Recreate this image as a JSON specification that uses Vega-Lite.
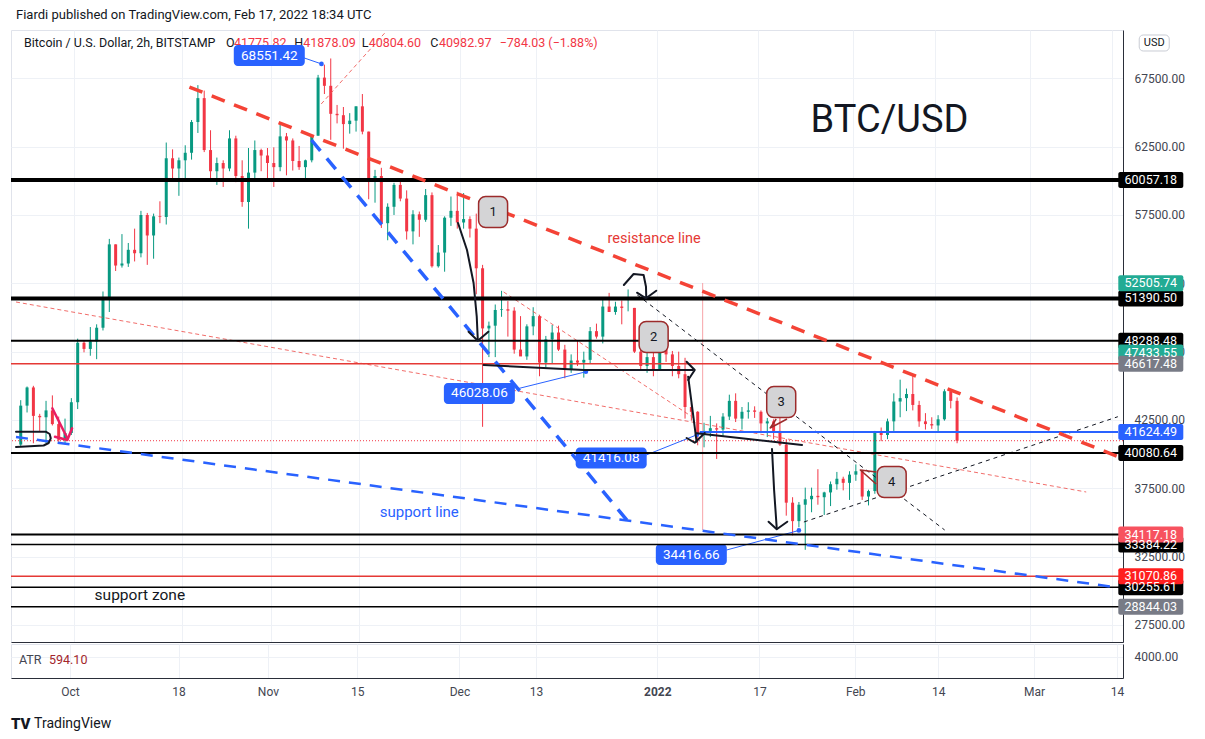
{
  "$schema": "https://vega.github.io/schema/vega-lite/v6.json",
  "background": "white",
  "padding": {"left": 8, "top": 8, "right": 5, "bottom": 5},
  "spacing": 0,
  "resolve": {"scale": {"x": "independent", "y": "independent"}, "axis": {"x": "independent", "y": "independent"}},
  "datasets": {
    "candles": [
      {"t":"2021-09-22","open":40700,"high":43950,"low":40600,"close":43550},
      {"t":"2021-09-23","open":43550,"high":44950,"low":43050,"close":44880},
      {"t":"2021-09-24","open":44880,"high":45000,"low":40800,"close":42800},
      {"t":"2021-09-25","open":42800,"high":42950,"low":41700,"close":42700},
      {"t":"2021-09-26","open":42700,"high":43900,"low":40800,"close":43200},
      {"t":"2021-09-27","open":43200,"high":44300,"low":42100,"close":42200},
      {"t":"2021-09-28","open":42200,"high":42750,"low":40900,"close":41050},
      {"t":"2021-09-29","open":41050,"high":42600,"low":40800,"close":41550},
      {"t":"2021-09-30","open":41550,"high":44100,"low":41400,"close":43800},
      {"t":"2021-10-01","open":43800,"high":48450,"low":43300,"close":48150},
      {"t":"2021-10-02","open":48150,"high":48350,"low":47450,"close":47700},
      {"t":"2021-10-03","open":47700,"high":49300,"low":47200,"close":48250},
      {"t":"2021-10-04","open":48250,"high":49500,"low":46950,"close":49250},
      {"t":"2021-10-05","open":49250,"high":51900,"low":49050,"close":51500},
      {"t":"2021-10-06","open":51500,"high":55750,"low":50400,"close":55350},
      {"t":"2021-10-07","open":55350,"high":55350,"low":53400,"close":53800},
      {"t":"2021-10-08","open":53800,"high":56100,"low":53650,"close":53950},
      {"t":"2021-10-09","open":53950,"high":55450,"low":53700,"close":54950},
      {"t":"2021-10-10","open":54950,"high":56500,"low":54100,"close":54700},
      {"t":"2021-10-11","open":54700,"high":57800,"low":54400,"close":57500},
      {"t":"2021-10-12","open":57500,"high":57650,"low":53850,"close":56000},
      {"t":"2021-10-13","open":56000,"high":57600,"low":54300,"close":57400},
      {"t":"2021-10-14","open":57400,"high":58500,"low":56900,"close":57350},
      {"t":"2021-10-15","open":57350,"high":62800,"low":56800,"close":61650},
      {"t":"2021-10-16","open":61650,"high":62300,"low":60200,"close":60900},
      {"t":"2021-10-17","open":60900,"high":61700,"low":58900,"close":61500},
      {"t":"2021-10-18","open":61500,"high":62600,"low":60100,"close":62050},
      {"t":"2021-10-19","open":62050,"high":64450,"low":61550,"close":64300},
      {"t":"2021-10-20","open":64300,"high":67000,"low":63500,"close":66050},
      {"t":"2021-10-21","open":66050,"high":66600,"low":62100,"close":62250},
      {"t":"2021-10-22","open":62250,"high":63700,"low":60000,"close":60700},
      {"t":"2021-10-23","open":60700,"high":61700,"low":59700,"close":61300},
      {"t":"2021-10-24","open":61300,"high":61500,"low":59550,"close":60900},
      {"t":"2021-10-25","open":60900,"high":63700,"low":60700,"close":63100},
      {"t":"2021-10-26","open":63100,"high":63300,"low":59900,"close":60350},
      {"t":"2021-10-27","open":60350,"high":61500,"low":58100,"close":58450},
      {"t":"2021-10-28","open":58450,"high":62400,"low":56500,"close":60600},
      {"t":"2021-10-29","open":60600,"high":62950,"low":60200,"close":62250},
      {"t":"2021-10-30","open":62250,"high":62350,"low":60700,"close":61850},
      {"t":"2021-10-31","open":61850,"high":62400,"low":59950,"close":61300},
      {"t":"2021-11-01","open":61300,"high":62450,"low":59550,"close":61000},
      {"t":"2021-11-02","open":61000,"high":64300,"low":60700,"close":63250},
      {"t":"2021-11-03","open":63250,"high":63500,"low":60400,"close":62950},
      {"t":"2021-11-04","open":62950,"high":63100,"low":60750,"close":61450},
      {"t":"2021-11-05","open":61450,"high":62550,"low":60800,"close":61000},
      {"t":"2021-11-06","open":61000,"high":61550,"low":60100,"close":61500},
      {"t":"2021-11-07","open":61500,"high":63300,"low":61350,"close":63300},
      {"t":"2021-11-08","open":63300,"high":67750,"low":63300,"close":67550},
      {"t":"2021-11-09","open":67550,"high":68500,"low":66350,"close":66950},
      {"t":"2021-11-10","open":66950,"high":68950,"low":63000,"close":64900},
      {"t":"2021-11-11","open":64900,"high":65550,"low":64200,"close":64800},
      {"t":"2021-11-12","open":64800,"high":65400,"low":62350,"close":64150},
      {"t":"2021-11-13","open":64150,"high":64950,"low":63450,"close":64400},
      {"t":"2021-11-14","open":64400,"high":65450,"low":63600,"close":65450},
      {"t":"2021-11-15","open":65450,"high":66350,"low":63400,"close":63600},
      {"t":"2021-11-16","open":63600,"high":63600,"low":58650,"close":60100},
      {"t":"2021-11-17","open":60100,"high":60800,"low":58400,"close":60350},
      {"t":"2021-11-18","open":60350,"high":60950,"low":56550,"close":56900},
      {"t":"2021-11-19","open":56900,"high":58350,"low":55650,"close":58100},
      {"t":"2021-11-20","open":58100,"high":59850,"low":57500,"close":59700},
      {"t":"2021-11-21","open":59700,"high":60050,"low":58500,"close":58700},
      {"t":"2021-11-22","open":58700,"high":59300,"low":55700,"close":56300},
      {"t":"2021-11-23","open":56300,"high":57850,"low":55350,"close":57550},
      {"t":"2021-11-24","open":57550,"high":57750,"low":55900,"close":57150},
      {"t":"2021-11-25","open":57150,"high":59400,"low":57000,"close":58950},
      {"t":"2021-11-26","open":58950,"high":59150,"low":53650,"close":53750},
      {"t":"2021-11-27","open":53750,"high":55300,"low":53650,"close":54750},
      {"t":"2021-11-28","open":54750,"high":57400,"low":53350,"close":57300},
      {"t":"2021-11-29","open":57300,"high":58850,"low":56700,"close":57800},
      {"t":"2021-11-30","open":57800,"high":59200,"low":56500,"close":56950},
      {"t":"2021-12-01","open":56950,"high":59100,"low":56500,"close":57200},
      {"t":"2021-12-02","open":57200,"high":57400,"low":55850,"close":56500},
      {"t":"2021-12-03","open":56500,"high":57600,"low":51700,"close":53600},
      {"t":"2021-12-04","open":53600,"high":53850,"low":42000,"close":49200},
      {"t":"2021-12-05","open":49200,"high":49700,"low":47100,"close":49400},
      {"t":"2021-12-06","open":49400,"high":50950,"low":47100,"close":50550},
      {"t":"2021-12-07","open":50550,"high":51950,"low":50050,"close":50600},
      {"t":"2021-12-08","open":50600,"high":51200,"low":48600,"close":50500},
      {"t":"2021-12-09","open":50500,"high":50750,"low":47350,"close":47650},
      {"t":"2021-12-10","open":47650,"high":50100,"low":47300,"close":47150},
      {"t":"2021-12-11","open":47150,"high":49500,"low":46900,"close":49350},
      {"t":"2021-12-12","open":49350,"high":50750,"low":48700,"close":50100},
      {"t":"2021-12-13","open":50100,"high":50200,"low":45700,"close":46700},
      {"t":"2021-12-14","open":46700,"high":48650,"low":46350,"close":48400},
      {"t":"2021-12-15","open":48400,"high":49450,"low":46600,"close":48900},
      {"t":"2021-12-16","open":48900,"high":49400,"low":47550,"close":47650},
      {"t":"2021-12-17","open":47650,"high":48000,"low":45550,"close":46200},
      {"t":"2021-12-18","open":46200,"high":47300,"low":45950,"close":46850},
      {"t":"2021-12-19","open":46850,"high":48300,"low":46450,"close":46700},
      {"t":"2021-12-20","open":46700,"high":47500,"low":45600,"close":46900},
      {"t":"2021-12-21","open":46900,"high":49300,"low":46650,"close":49000},
      {"t":"2021-12-22","open":49000,"high":49550,"low":48450,"close":48600},
      {"t":"2021-12-23","open":48600,"high":51350,"low":48100,"close":50800},
      {"t":"2021-12-24","open":50800,"high":51800,"low":50450,"close":50400},
      {"t":"2021-12-25","open":50400,"high":51150,"low":50200,"close":50800},
      {"t":"2021-12-26","open":50800,"high":51250,"low":49500,"close":50700},
      {"t":"2021-12-27","open":50700,"high":52050,"low":50450,"close":50700},
      {"t":"2021-12-28","open":50700,"high":50700,"low":47400,"close":47500},
      {"t":"2021-12-29","open":47500,"high":48100,"low":46150,"close":46450},
      {"t":"2021-12-30","open":46450,"high":47900,"low":45950,"close":47100},
      {"t":"2021-12-31","open":47100,"high":48500,"low":45700,"close":46200},
      {"t":"2022-01-01","open":46200,"high":47900,"low":46200,"close":47700},
      {"t":"2022-01-02","open":47700,"high":47950,"low":46750,"close":47300},
      {"t":"2022-01-03","open":47300,"high":47550,"low":45700,"close":46450},
      {"t":"2022-01-04","open":46450,"high":47500,"low":45550,"close":45850},
      {"t":"2022-01-05","open":45850,"high":47050,"low":42600,"close":43450},
      {"t":"2022-01-06","open":43450,"high":43750,"low":42450,"close":43100},
      {"t":"2022-01-07","open":43100,"high":43150,"low":40650,"close":41550},
      {"t":"2022-01-08","open":41550,"high":42300,"low":40500,"close":41700},
      {"t":"2022-01-09","open":41700,"high":42800,"low":41250,"close":41900},
      {"t":"2022-01-10","open":41900,"high":42250,"low":39650,"close":41800},
      {"t":"2022-01-11","open":41800,"high":43000,"low":41300,"close":42750},
      {"t":"2022-01-12","open":42750,"high":44350,"low":42500,"close":43900},
      {"t":"2022-01-13","open":43900,"high":44450,"low":42350,"close":42600},
      {"t":"2022-01-14","open":42600,"high":43450,"low":41800,"close":43100},
      {"t":"2022-01-15","open":43100,"high":43800,"low":42600,"close":43200},
      {"t":"2022-01-16","open":43200,"high":43500,"low":42650,"close":43100},
      {"t":"2022-01-17","open":43100,"high":43200,"low":41550,"close":42250},
      {"t":"2022-01-18","open":42250,"high":42650,"low":41250,"close":42400},
      {"t":"2022-01-19","open":42400,"high":42550,"low":41100,"close":41700},
      {"t":"2022-01-20","open":41700,"high":43500,"low":40600,"close":40700},
      {"t":"2022-01-21","open":40700,"high":41100,"low":35500,"close":36450},
      {"t":"2022-01-22","open":36450,"high":36850,"low":34050,"close":35100},
      {"t":"2022-01-23","open":35100,"high":36500,"low":34650,"close":36300},
      {"t":"2022-01-24","open":36300,"high":37550,"low":33000,"close":36700},
      {"t":"2022-01-25","open":36700,"high":37550,"low":35750,"close":36950},
      {"t":"2022-01-26","open":36950,"high":38900,"low":36300,"close":36850},
      {"t":"2022-01-27","open":36850,"high":37250,"low":35550,"close":37200},
      {"t":"2022-01-28","open":37200,"high":38000,"low":36200,"close":37800},
      {"t":"2022-01-29","open":37800,"high":38700,"low":37400,"close":38200},
      {"t":"2022-01-30","open":38200,"high":38350,"low":37350,"close":37900},
      {"t":"2022-01-31","open":37900,"high":38750,"low":36650,"close":38500},
      {"t":"2022-02-01","open":38500,"high":39250,"low":38050,"close":38750},
      {"t":"2022-02-02","open":38750,"high":38850,"low":36650,"close":36900},
      {"t":"2022-02-03","open":36900,"high":37400,"low":36250,"close":37300},
      {"t":"2022-02-04","open":37300,"high":41700,"low":37100,"close":41550},
      {"t":"2022-02-05","open":41550,"high":41950,"low":40950,"close":41400},
      {"t":"2022-02-06","open":41400,"high":42600,"low":41100,"close":42400},
      {"t":"2022-02-07","open":42400,"high":44450,"low":41700,"close":43850},
      {"t":"2022-02-08","open":43850,"high":45450,"low":42700,"close":44100},
      {"t":"2022-02-09","open":44100,"high":44800,"low":43150,"close":44400},
      {"t":"2022-02-10","open":44400,"high":45800,"low":43200,"close":43600},
      {"t":"2022-02-11","open":43600,"high":43900,"low":42000,"close":42400},
      {"t":"2022-02-12","open":42400,"high":43000,"low":41800,"close":42200},
      {"t":"2022-02-13","open":42200,"high":42700,"low":41850,"close":42100},
      {"t":"2022-02-14","open":42100,"high":42850,"low":41600,"close":42550},
      {"t":"2022-02-15","open":42550,"high":44750,"low":42450,"close":44600},
      {"t":"2022-02-16","open":44600,"high":44600,"low":43350,"close":43900},
      {"t":"2022-02-17","open":43900,"high":44150,"low":40800,"close":40983}
    ],
    "levels": [
      {"p":60057.18,"k":"major"},
      {"p":51390.5,"k":"major"},
      {"p":48288.48,"k":"minor"},
      {"p":40080.64,"k":"minor"},
      {"p":34117.18,"k":"minor"},
      {"p":33384.22,"k":"fine"},
      {"p":30255.61,"k":"fine"},
      {"p":28844.03,"k":"fine"},
      {"p":46617.48,"k":"red"},
      {"p":31070.86,"k":"red"},
      {"p":40982.97,"k":"last"}
    ],
    "paths": [
      {"g":"r1","s":"resistance","i":0,"t":"2021-10-19T04:00:00Z","p":66863},
      {"g":"r1","s":"resistance","i":1,"t":"2022-03-14T22:00:00Z","p":39821},
      {"g":"c1","s":"channel","i":0,"t":"2021-11-07T11:00:00Z","p":62986},
      {"g":"c1","s":"channel","i":1,"t":"2021-12-28T05:00:00Z","p":34670},
      {"g":"s1","s":"support","i":0,"t":"2021-09-21T18:11:00Z","p":41255},
      {"g":"s1","s":"support","i":1,"t":"2022-03-14T22:00:00Z","p":30243},
      {"g":"t1","s":"redthin","i":0,"t":"2021-09-21T18:11:00Z","p":51133},
      {"g":"t1","s":"redthin","i":1,"t":"2022-03-09T22:00:00Z","p":37231},
      {"g":"t2","s":"redthin","i":0,"t":"2021-11-09T00:00:00Z","p":65620},
      {"g":"t2","s":"redthin","i":1,"t":"2021-11-19T05:00:00Z","p":70900},
      {"g":"t3","s":"redthin","i":0,"t":"2021-12-07T20:00:00Z","p":51864},
      {"g":"t3","s":"redthin","i":1,"t":"2022-01-07T09:00:00Z","p":42499},
      {"g":"k1","s":"blackthin","i":0,"t":"2021-12-28T23:00:00Z","p":51645},
      {"g":"k1","s":"blackthin","i":1,"t":"2022-02-15T13:00:00Z","p":34451},
      {"g":"k2","s":"blackthin","i":0,"t":"2022-01-24T07:00:00Z","p":35036},
      {"g":"k2","s":"blackthin","i":1,"t":"2022-03-14T22:00:00Z","p":42740},
      {"g":"a1","s":"pen","i":0,"t":"2021-11-30T15:00:00Z","p":56913},
      {"g":"a1","s":"pen","i":1,"t":"2021-12-02T01:00:00Z","p":54937},
      {"g":"a1","s":"pen","i":2,"t":"2021-12-03T02:00:00Z","p":52523},
      {"g":"a1","s":"pen","i":3,"t":"2021-12-03T14:00:00Z","p":50057},
      {"g":"a1","s":"pen","i":4,"t":"2021-12-03T18:00:00Z","p":48352},
      {"g":"a1h","s":"pen","i":0,"t":"2021-12-02T07:00:00Z","p":48960},
      {"g":"a1h","s":"pen","i":1,"t":"2021-12-03T18:00:00Z","p":48301},
      {"g":"a1h","s":"pen","i":2,"t":"2021-12-05T10:00:00Z","p":48960},
      {"g":"b1","s":"pen","i":0,"t":"2021-12-04T16:00:00Z","p":46523},
      {"g":"b1","s":"pen","i":1,"t":"2021-12-20T12:00:00Z","p":46157},
      {"g":"b1","s":"pen","i":2,"t":"2022-01-06T18:00:00Z","p":46157},
      {"g":"b1h","s":"pen","i":0,"t":"2022-01-05T18:00:00Z","p":46765},
      {"g":"b1h","s":"pen","i":1,"t":"2022-01-07T01:00:00Z","p":46157},
      {"g":"b1h","s":"pen","i":2,"t":"2022-01-06T00:00:00Z","p":45426},
      {"g":"c1v","s":"pen","i":0,"t":"2022-01-06T00:00:00Z","p":45667},
      {"g":"c1v","s":"pen","i":1,"t":"2022-01-07T08:00:00Z","p":40911},
      {"g":"c1h","s":"pen","i":0,"t":"2022-01-05T18:00:00Z","p":41182},
      {"g":"c1h","s":"pen","i":1,"t":"2022-01-07T01:00:00Z","p":40838},
      {"g":"c1h","s":"pen","i":2,"t":"2022-01-08T15:00:00Z","p":41548},
      {"g":"d1","s":"pen","i":0,"t":"2022-01-07T08:00:00Z","p":41526},
      {"g":"d1","s":"pen","i":1,"t":"2022-01-24T00:00:00Z","p":40670},
      {"g":"e1","s":"pen","i":0,"t":"2022-01-19T06:00:00Z","p":40377},
      {"g":"e1","s":"pen","i":1,"t":"2022-01-19T14:00:00Z","p":37378},
      {"g":"e1","s":"pen","i":2,"t":"2022-01-20T00:00:00Z","p":34575},
      {"g":"e1h","s":"pen","i":0,"t":"2022-01-18T17:00:00Z","p":35058},
      {"g":"e1h","s":"pen","i":1,"t":"2022-01-20T00:00:00Z","p":34502},
      {"g":"e1h","s":"pen","i":2,"t":"2022-01-21T16:00:00Z","p":35058},
      {"g":"f1","s":"pen","i":0,"t":"2021-12-26T20:00:00Z","p":52377},
      {"g":"f1","s":"pen","i":1,"t":"2021-12-28T09:00:00Z","p":53181},
      {"g":"f1","s":"pen","i":2,"t":"2021-12-29T23:00:00Z","p":53108},
      {"g":"f1","s":"pen","i":3,"t":"2021-12-30T08:00:00Z","p":52252},
      {"g":"f1","s":"pen","i":4,"t":"2021-12-30T09:00:00Z","p":51521},
      {"g":"f1h","s":"pen","i":0,"t":"2021-12-28T22:00:00Z","p":51813},
      {"g":"f1h","s":"pen","i":1,"t":"2021-12-30T08:00:00Z","p":51403},
      {"g":"f1h","s":"pen","i":2,"t":"2021-12-31T23:00:00Z","p":51960},
      {"g":"h1","s":"pen","i":0,"t":"2021-09-21T18:11:00Z","p":41643},
      {"g":"h1","s":"pen","i":1,"t":"2021-09-26T11:00:00Z","p":41643},
      {"g":"h1","s":"pen","i":2,"t":"2021-09-27T02:00:00Z","p":41475},
      {"g":"h1","s":"pen","i":3,"t":"2021-09-27T06:00:00Z","p":41160},
      {"g":"h1","s":"pen","i":4,"t":"2021-09-26T22:00:00Z","p":40816},
      {"g":"h1","s":"pen","i":5,"t":"2021-09-26T03:00:00Z","p":40633},
      {"g":"h1","s":"pen","i":6,"t":"2021-09-21T18:11:00Z","p":40524},
      {"g":"p1","s":"pink","i":0,"t":"2021-09-27T12:00:00Z","p":43355},
      {"g":"p1","s":"pink","i":1,"t":"2021-09-29T21:00:00Z","p":41160},
      {"g":"p1h","s":"pink","i":0,"t":"2021-09-27T22:00:00Z","p":41277},
      {"g":"p1h","s":"pink","i":1,"t":"2021-09-29T21:00:00Z","p":41036},
      {"g":"p1h","s":"pink","i":2,"t":"2021-09-30T15:00:00Z","p":41892},
      {"g":"l1","s":"callout","i":0,"t":"2021-11-05T21:00:00Z","p":69058},
      {"g":"l1","s":"callout","i":1,"t":"2021-11-09T01:00:00Z","p":68551},
      {"g":"l2","s":"callout","i":0,"t":"2021-12-09T21:00:00Z","p":44767},
      {"g":"l2","s":"callout","i":1,"t":"2021-12-20T20:00:00Z","p":46028},
      {"g":"l3","s":"callout","i":0,"t":"2021-12-30T09:00:00Z","p":39938},
      {"g":"l3","s":"callout","i":1,"t":"2022-01-07T09:00:00Z","p":41416},
      {"g":"l4","s":"callout","i":0,"t":"2022-01-12T02:00:00Z","p":32988},
      {"g":"l4","s":"callout","i":1,"t":"2022-01-23T12:00:00Z","p":34417},
      {"g":"v1","s":"range","i":0,"t":"2022-01-08T07:00:00Z","p":52523},
      {"g":"v1","s":"range","i":1,"t":"2022-01-08T07:00:00Z","p":34451},
      {"g":"n3","s":"tail","i":0,"t":"2022-01-19T22:00:00Z","p":42572},
      {"g":"n3","s":"tail","i":1,"t":"2022-01-18T23:00:00Z","p":41914},
      {"g":"n3","s":"tail","i":2,"t":"2022-01-21T15:00:00Z","p":42572},
      {"g":"n4","s":"tail","i":0,"t":"2022-02-04T17:00:00Z","p":38695},
      {"g":"n4","s":"tail","i":1,"t":"2022-02-02T05:00:00Z","p":38841},
      {"g":"n4","s":"tail","i":2,"t":"2022-02-04T17:00:00Z","p":37817}
    ],
    "callouts": [
      {"v":"68551.42","t":"2021-10-31T19:00:00Z","p":69168,"tp":"2021-11-09T01:00:00Z","pp":68551.42},
      {"v":"46028.06","t":"2021-12-04T00:00:00Z","p":44438,"tp":"2021-12-20T20:00:00Z","pp":46028.06},
      {"v":"41416.08","t":"2021-12-24T20:00:00Z","p":39719,"tp":"2022-01-07T09:00:00Z","pp":41416.08},
      {"v":"34416.66","t":"2022-01-06T12:00:00Z","p":32658,"tp":"2022-01-23T12:00:00Z","pp":34416.66}
    ],
    "badges": [
      {"n":"1","t":"2021-12-06T04:00:00Z","p":57718},
      {"n":"2","t":"2021-12-31T13:00:00Z","p":48572},
      {"n":"3","t":"2022-01-20T17:00:00Z","p":43816},
      {"n":"4","t":"2022-02-07T04:00:00Z","p":37963}
    ],
    "tags": [
      {"p":60057.18,"kind":"level"},
      {"p":51390.5,"kind":"level"},
      {"p":48288.48,"kind":"level"},
      {"p":40080.64,"kind":"level"},
      {"p":33384.22,"kind":"level"},
      {"p":30255.61,"kind":"level"},
      {"p":52505.74,"kind":"range"},
      {"p":47433.55,"kind":"range"},
      {"p":46617.48,"kind":"muted"},
      {"p":28844.03,"kind":"muted"},
      {"p":41624.49,"kind":"line"},
      {"p":34117.18,"kind":"loss"},
      {"p":31070.86,"kind":"alert"}
    ],
    "header": [
      {"text":"Bitcoin / U.S. Dollar, 2h, BITSTAMP","k":"name","t":"2021-09-23T00:15:00Z"},
      {"text":"O","k":"name","t":"2021-10-24T23:00:00Z"},
      {"text":"41775.82","k":"value","t":"2021-10-26T05:00:00Z"},
      {"text":"H","k":"name","t":"2021-11-04T18:00:00Z"},
      {"text":"41878.09","k":"value","t":"2021-11-06T04:00:00Z"},
      {"text":"L","k":"name","t":"2021-11-15T10:00:00Z"},
      {"text":"40804.60","k":"value","t":"2021-11-16T12:00:00Z"},
      {"text":"C","k":"name","t":"2021-11-26T06:00:00Z"},
      {"text":"40982.97","k":"value","t":"2021-11-27T15:00:00Z"},
      {"text":"−784.03 (−1.88%)","k":"value","t":"2021-12-07T05:00:00Z"}
    ]
  },
  "vconcat": [
    {
      "width": 1112,
      "height": 612,
      "layer": [
        {
          "data": {"name": "candles"},
          "mark": {"type": "rule", "strokeWidth": 1, "xOffset": 3.2},
          "encoding": {
            "x": {
              "field": "t", "type": "temporal", "title": null,
              "scale": {"type": "utc", "domain": [
                {"year": 2021, "month": 9, "date": 21, "hours": 18, "minutes": 11, "utc": true},
                {"year": 2022, "month": 3, "date": 14, "hours": 22, "minutes": 34, "utc": true}
              ]},
              "axis": {
                "values": [
                  {"year": 2021, "month": 10, "date": 1, "utc": true},
                  {"year": 2021, "month": 10, "date": 18, "utc": true},
                  {"year": 2021, "month": 11, "date": 1, "utc": true},
                  {"year": 2021, "month": 11, "date": 15, "utc": true},
                  {"year": 2021, "month": 12, "date": 1, "utc": true},
                  {"year": 2021, "month": 12, "date": 13, "utc": true},
                  {"year": 2022, "month": 1, "date": 1, "utc": true},
                  {"year": 2022, "month": 1, "date": 17, "utc": true},
                  {"year": 2022, "month": 2, "date": 1, "utc": true},
                  {"year": 2022, "month": 2, "date": 14, "utc": true},
                  {"year": 2022, "month": 3, "date": 1, "utc": true},
                  {"year": 2022, "month": 3, "date": 14, "utc": true}
                ],
                "labels": false, "ticks": false, "grid": true, "gridColor": "#eef1f6",
                "domain": true, "domainColor": "#2a2e39"
              }
            },
            "y": {
              "field": "low", "type": "quantitative", "title": null,
              "scale": {"domain": [26256, 71034], "zero": false, "nice": false},
              "axis": {
                "orient": "right",
                "values": [27500, 30000, 32500, 35000, 37500, 40000, 42500, 45000, 47500, 50000, 52500, 55000, 57500, 60000, 62500, 65000, 67500, 70000],
                "format": ".2f", "ticks": false, "tickSize": 0, "labelPadding": 11,
                "labelOverlap": false,
                "grid": true, "gridColor": "#eef1f6", "domain": true, "domainColor": "#2a2e39",
                "labelColor": "#434651", "labelFontSize": 12
              }
            },
            "y2": {"field": "high"},
            "color": {"condition": {"test": "datum.close >= datum.open", "value": "#089981"}, "value": "#f23645"}
          }
        },
        {
          "data": {"name": "candles"},
          "mark": {"type": "bar", "width": 3, "xOffset": 3.2},
          "encoding": {
            "x": {"field": "t", "type": "temporal", "title": null},
            "y": {"field": "open", "type": "quantitative", "title": null},
            "y2": {"field": "close"},
            "color": {"condition": {"test": "datum.close >= datum.open", "value": "#089981"}, "value": "#f23645"}
          }
        },
        {
          "data": {"name": "levels"},
          "transform": [{"filter": "datum.k == 'last'"}],
          "mark": {"type": "rule", "color": "#f23645", "strokeWidth": 1, "strokeDash": [1, 2]},
          "encoding": {"y": {"field": "p", "type": "quantitative", "title": null}}
        },
        {
          "data": {"name": "paths"},
          "transform": [{"filter": "datum.s == 'range'"}],
          "mark": {"type": "line", "color": "#f7a3a8", "strokeWidth": 1},
          "encoding": {
            "x": {"field": "t", "type": "temporal", "title": null},
            "y": {"field": "p", "type": "quantitative", "title": null},
            "detail": {"field": "g"}, "order": {"field": "i"}
          }
        },
        {
          "data": {"name": "paths"},
          "transform": [{"filter": "datum.s == 'redthin'"}],
          "mark": {"type": "line", "color": "#ef5350", "strokeWidth": 1, "strokeDash": [4, 3], "opacity": 0.85},
          "encoding": {
            "x": {"field": "t", "type": "temporal", "title": null},
            "y": {"field": "p", "type": "quantitative", "title": null},
            "detail": {"field": "g"}, "order": {"field": "i"}
          }
        },
        {
          "data": {"name": "paths"},
          "transform": [{"filter": "datum.s == 'blackthin'"}],
          "mark": {"type": "line", "color": "#131722", "strokeWidth": 1, "strokeDash": [4, 4]},
          "encoding": {
            "x": {"field": "t", "type": "temporal", "title": null},
            "y": {"field": "p", "type": "quantitative", "title": null},
            "detail": {"field": "g"}, "order": {"field": "i"}
          }
        },
        {
          "data": {"name": "header"},
          "transform": [{"filter": "datum.k == 'name'"}],
          "mark": {"type": "text", "align": "left", "baseline": "middle", "fontSize": 12.5, "color": "#131722"},
          "encoding": {
            "x": {"field": "t", "type": "temporal", "title": null},
            "y": {"datum": 70083, "type": "quantitative"},
            "text": {"field": "text"}
          }
        },
        {
          "data": {"name": "header"},
          "transform": [{"filter": "datum.k == 'value'"}],
          "mark": {"type": "text", "align": "left", "baseline": "middle", "fontSize": 12.5, "color": "#f23645"},
          "encoding": {
            "x": {"field": "t", "type": "temporal", "title": null},
            "y": {"datum": 70083, "type": "quantitative"},
            "text": {"field": "text"}
          }
        },
        {
          "data": {"name": "paths"},
          "transform": [{"filter": "datum.s == 'callout'"}],
          "mark": {"type": "line", "color": "#2962ff", "strokeWidth": 1},
          "encoding": {
            "x": {"field": "t", "type": "temporal", "title": null},
            "y": {"field": "p", "type": "quantitative", "title": null},
            "detail": {"field": "g"}, "order": {"field": "i"}
          }
        },
        {
          "data": {"name": "callouts"},
          "mark": {"type": "point", "filled": true, "size": 22, "color": "#2962ff", "opacity": 1},
          "encoding": {
            "x": {"field": "tp", "type": "temporal", "title": null},
            "y": {"field": "pp", "type": "quantitative", "title": null}
          }
        },
        {
          "data": {"name": "callouts"},
          "mark": {"type": "tick", "orient": "horizontal", "size": 71, "thickness": 21, "cornerRadius": 4, "color": "#2962ff", "opacity": 1},
          "encoding": {
            "x": {"field": "t", "type": "temporal", "title": null},
            "y": {"field": "p", "type": "quantitative", "title": null}
          }
        },
        {
          "data": {"name": "callouts"},
          "mark": {"type": "text", "align": "center", "baseline": "middle", "fontSize": 13.5, "color": "white"},
          "encoding": {
            "x": {"field": "t", "type": "temporal", "title": null},
            "y": {"field": "p", "type": "quantitative", "title": null},
            "text": {"field": "v"}
          }
        },
        {
          "data": {"name": "levels"},
          "transform": [{"filter": "datum.k == 'major'"}],
          "mark": {"type": "rule", "color": "#000000", "strokeWidth": 4},
          "encoding": {"y": {"field": "p", "type": "quantitative", "title": null}}
        },
        {
          "data": {"name": "levels"},
          "transform": [{"filter": "datum.k == 'minor'"}],
          "mark": {"type": "rule", "color": "#000000", "strokeWidth": 2},
          "encoding": {"y": {"field": "p", "type": "quantitative", "title": null}}
        },
        {
          "data": {"name": "levels"},
          "transform": [{"filter": "datum.k == 'fine'"}],
          "mark": {"type": "rule", "color": "#000000", "strokeWidth": 1.5},
          "encoding": {"y": {"field": "p", "type": "quantitative", "title": null}}
        },
        {
          "data": {"name": "levels"},
          "transform": [{"filter": "datum.k == 'red'"}],
          "mark": {"type": "rule", "color": "#e53935", "strokeWidth": 1.5},
          "encoding": {"y": {"field": "p", "type": "quantitative", "title": null}}
        },
        {
          "data": {"values": [{"t": "2022-01-07T20:00:00Z", "t2": "2022-03-14T22:34:00Z", "p": 41624.49}]},
          "mark": {"type": "rule", "color": "#2962ff", "strokeWidth": 2},
          "encoding": {
            "x": {"field": "t", "type": "temporal", "title": null},
            "x2": {"field": "t2"},
            "y": {"field": "p", "type": "quantitative", "title": null}
          }
        },
        {
          "data": {"name": "paths"},
          "transform": [{"filter": "datum.s == 'resistance'"}],
          "mark": {"type": "line", "color": "#f44336", "strokeWidth": 3.5, "strokeDash": [14, 10]},
          "encoding": {
            "x": {"field": "t", "type": "temporal", "title": null},
            "y": {"field": "p", "type": "quantitative", "title": null},
            "detail": {"field": "g"}, "order": {"field": "i"}
          }
        },
        {
          "data": {"name": "paths"},
          "transform": [{"filter": "datum.s == 'channel'"}],
          "mark": {"type": "line", "color": "#2962ff", "strokeWidth": 3.5, "strokeDash": [14, 10]},
          "encoding": {
            "x": {"field": "t", "type": "temporal", "title": null},
            "y": {"field": "p", "type": "quantitative", "title": null},
            "detail": {"field": "g"}, "order": {"field": "i"}
          }
        },
        {
          "data": {"name": "paths"},
          "transform": [{"filter": "datum.s == 'support'"}],
          "mark": {"type": "line", "color": "#2962ff", "strokeWidth": 2.5, "strokeDash": [12, 9]},
          "encoding": {
            "x": {"field": "t", "type": "temporal", "title": null},
            "y": {"field": "p", "type": "quantitative", "title": null},
            "detail": {"field": "g"}, "order": {"field": "i"}
          }
        },
        {
          "data": {"name": "paths"},
          "transform": [{"filter": "datum.s == 'pen'"}],
          "mark": {"type": "line", "color": "#131722", "strokeWidth": 2, "strokeCap": "round", "strokeJoin": "round"},
          "encoding": {
            "x": {"field": "t", "type": "temporal", "title": null},
            "y": {"field": "p", "type": "quantitative", "title": null},
            "detail": {"field": "g"}, "order": {"field": "i"}
          }
        },
        {
          "data": {"name": "paths"},
          "transform": [{"filter": "datum.s == 'pink'"}],
          "mark": {"type": "line", "color": "#e91e63", "strokeWidth": 2.5, "strokeCap": "round", "strokeJoin": "round"},
          "encoding": {
            "x": {"field": "t", "type": "temporal", "title": null},
            "y": {"field": "p", "type": "quantitative", "title": null},
            "detail": {"field": "g"}, "order": {"field": "i"}
          }
        },
        {
          "data": {"name": "badges"},
          "mark": {"type": "tick", "orient": "horizontal", "size": 29, "thickness": 31, "cornerRadius": 7, "color": "#d4d4d6", "stroke": "#9c2b2b", "strokeWidth": 1.5, "opacity": 1},
          "encoding": {
            "x": {"field": "t", "type": "temporal", "title": null},
            "y": {"field": "p", "type": "quantitative", "title": null}
          }
        },
        {
          "data": {"name": "paths"},
          "transform": [{"filter": "datum.s == 'tail'"}],
          "mark": {"type": "line", "color": "#9c2b2b", "strokeWidth": 1.5, "strokeJoin": "round"},
          "encoding": {
            "x": {"field": "t", "type": "temporal", "title": null},
            "y": {"field": "p", "type": "quantitative", "title": null},
            "detail": {"field": "g"}, "order": {"field": "i"}
          }
        },
        {
          "data": {"name": "badges"},
          "mark": {"type": "text", "align": "center", "baseline": "middle", "fontSize": 13, "color": "#131722"},
          "encoding": {
            "x": {"field": "t", "type": "temporal", "title": null},
            "y": {"field": "p", "type": "quantitative", "title": null},
            "text": {"field": "n"}
          }
        },
        {
          "data": {"values": [{"text": "BTC/USD", "t": "2022-02-06T20:00:00Z", "p": 63593}]},
          "mark": {"type": "text", "align": "center", "baseline": "alphabetic", "fontSize": 38, "color": "#131722"},
          "encoding": {
            "x": {"field": "t", "type": "temporal", "title": null},
            "y": {"field": "p", "type": "quantitative", "title": null},
            "text": {"field": "text"}
          }
        },
        {
          "data": {"values": [{"text": "resistance line", "t": "2021-12-31T15:00:00Z", "p": 55742}]},
          "mark": {"type": "text", "align": "center", "baseline": "middle", "fontSize": 14.5, "color": "#e53935"},
          "encoding": {
            "x": {"field": "t", "type": "temporal", "title": null},
            "y": {"field": "p", "type": "quantitative", "title": null},
            "text": {"field": "text"}
          }
        },
        {
          "data": {"values": [{"text": "support line", "t": "2021-11-24T12:00:00Z", "p": 35768}]},
          "mark": {"type": "text", "align": "center", "baseline": "middle", "fontSize": 15, "color": "#2962ff"},
          "encoding": {
            "x": {"field": "t", "type": "temporal", "title": null},
            "y": {"field": "p", "type": "quantitative", "title": null},
            "text": {"field": "text"}
          }
        },
        {
          "data": {"values": [{"text": "support zone", "t": "2021-10-11T08:00:00Z", "p": 29695}]},
          "mark": {"type": "text", "align": "center", "baseline": "middle", "fontSize": 15.5, "color": "#131722"},
          "encoding": {
            "x": {"field": "t", "type": "temporal", "title": null},
            "y": {"field": "p", "type": "quantitative", "title": null},
            "text": {"field": "text"}
          }
        },
        {
          "data": {"values": [{"text": "Fiardi published on TradingView.com, Feb 17, 2022 18:34 UTC", "t": "2021-09-21T18:11:00Z", "p": 72131}]},
          "mark": {"type": "text", "align": "left", "baseline": "middle", "fontSize": 13, "color": "#131722"},
          "encoding": {
            "x": {"field": "t", "type": "temporal", "title": null},
            "y": {"field": "p", "type": "quantitative", "title": null},
            "text": {"field": "text"}
          }
        },
        {
          "data": {"name": "tags"},
          "mark": {"type": "tick", "orient": "horizontal", "size": 65, "thickness": 16, "cornerRadius": 2, "opacity": 1},
          "encoding": {
            "x": {"datum": {"year": 2022, "month": 3, "date": 20, "hours": 3, "utc": true}, "type": "temporal"},
            "y": {"field": "p", "type": "quantitative", "title": null},
            "color": {
              "field": "kind", "type": "nominal", "legend": null,
              "scale": {"domain": ["level", "range", "muted", "line", "loss", "alert"], "range": ["#000000", "#22ab94", "#787b86", "#2962ff", "#f7525f", "#ff1f1f"]}
            }
          }
        },
        {
          "data": {"name": "tags"},
          "mark": {"type": "text", "align": "center", "baseline": "middle", "fontSize": 12.5, "color": "white"},
          "encoding": {
            "x": {"datum": {"year": 2022, "month": 3, "date": 20, "hours": 3, "utc": true}, "type": "temporal"},
            "y": {"field": "p", "type": "quantitative", "title": null},
            "text": {"field": "p", "format": ".2f"}
          }
        },
        {
          "data": {"values": [{"text": "USD"}]},
          "mark": {"type": "tick", "orient": "horizontal", "size": 30, "thickness": 16, "cornerRadius": 4, "color": "white", "stroke": "#c9ccd4", "strokeWidth": 1, "opacity": 1},
          "encoding": {
            "x": {"datum": {"year": 2022, "month": 3, "date": 20, "hours": 16, "utc": true}, "type": "temporal"},
            "y": {"datum": 70083, "type": "quantitative"}
          }
        },
        {
          "data": {"values": [{"text": "USD"}]},
          "mark": {"type": "text", "align": "center", "baseline": "middle", "fontSize": 11, "color": "#131722"},
          "encoding": {
            "x": {"datum": {"year": 2022, "month": 3, "date": 20, "hours": 16, "utc": true}, "type": "temporal"},
            "y": {"datum": 70083, "type": "quantitative"},
            "text": {"field": "text"}
          }
        }
      ]
    },
    {
      "width": 1112,
      "height": 34,
      "data": {"values": [
        {"text": "ATR", "k": "name", "t": "2021-09-23T00:00:00Z", "v": 3428},
        {"text": "594.10", "k": "value", "t": "2021-09-27T17:00:00Z", "v": 3428},
        {"text": "TradingView", "k": "brand", "t": "2021-09-25T09:00:00Z", "v": -8764},
        {"text": "TV", "k": "logo", "t": "2021-09-21T18:11:00Z", "v": -8764}
      ]},
      "layer": [
        {
          "transform": [{"filter": "datum.k == 'name'"}],
          "mark": {"type": "text", "align": "left", "baseline": "middle", "fontSize": 12.5, "color": "#434651"},
          "encoding": {
            "x": {
              "field": "t", "type": "temporal", "title": null,
              "scale": {"type": "utc", "domain": [
                {"year": 2021, "month": 9, "date": 21, "hours": 18, "minutes": 11, "utc": true},
                {"year": 2022, "month": 3, "date": 14, "hours": 22, "minutes": 34, "utc": true}
              ]},
              "axis": {
                "values": [
                  {"year": 2021, "month": 10, "date": 1, "utc": true},
                  {"year": 2021, "month": 10, "date": 18, "utc": true},
                  {"year": 2021, "month": 11, "date": 1, "utc": true},
                  {"year": 2021, "month": 11, "date": 15, "utc": true},
                  {"year": 2021, "month": 12, "date": 1, "utc": true},
                  {"year": 2021, "month": 12, "date": 13, "utc": true},
                  {"year": 2022, "month": 1, "date": 1, "utc": true},
                  {"year": 2022, "month": 1, "date": 17, "utc": true},
                  {"year": 2022, "month": 2, "date": 1, "utc": true},
                  {"year": 2022, "month": 2, "date": 14, "utc": true},
                  {"year": 2022, "month": 3, "date": 1, "utc": true},
                  {"year": 2022, "month": 3, "date": 14, "utc": true}
                ],
                "labelExpr": "utcdate(datum.value) == 1 ? (utcmonth(datum.value) == 0 ? utcFormat(datum.value, '%Y') : utcFormat(datum.value, '%b')) : '' + utcdate(datum.value)",
                "labelFontWeight": {"condition": {"test": "utcmonth(datum.value) == 0 && utcdate(datum.value) == 1", "value": "bold"}, "value": "normal"},
                "labelFlush": false, "labelOverlap": false,
                "ticks": false, "tickSize": 0, "labelPadding": 8,
                "labelColor": "#434651", "labelFontSize": 12,
                "grid": true, "gridColor": "#eef1f6", "domain": true, "domainColor": "#2a2e39"
              }
            },
            "y": {
              "field": "v", "type": "quantitative", "title": null,
              "scale": {"domain": [0, 6476], "zero": false, "nice": false},
              "axis": {
                "orient": "right", "values": [4000], "format": ".2f",
                "ticks": false, "tickSize": 0, "labelPadding": 11,
                "grid": true, "gridColor": "#eef1f6", "domain": true, "domainColor": "#2a2e39",
                "labelColor": "#434651", "labelFontSize": 12
              }
            },
            "text": {"field": "text"}
          }
        },
        {
          "transform": [{"filter": "datum.k == 'value'"}],
          "mark": {"type": "text", "align": "left", "baseline": "middle", "fontSize": 12.5, "color": "#a3262c"},
          "encoding": {
            "x": {"field": "t", "type": "temporal", "title": null},
            "y": {"field": "v", "type": "quantitative", "title": null},
            "text": {"field": "text"}
          }
        },
        {
          "transform": [{"filter": "datum.k == 'brand'"}],
          "mark": {"type": "text", "align": "left", "baseline": "middle", "fontSize": 14, "color": "#131722"},
          "encoding": {
            "x": {"field": "t", "type": "temporal", "title": null},
            "y": {"field": "v", "type": "quantitative", "title": null},
            "text": {"field": "text"}
          }
        },
        {
          "transform": [{"filter": "datum.k == 'logo'"}],
          "mark": {"type": "text", "align": "left", "baseline": "middle", "fontSize": 15, "fontWeight": 900, "color": "#131722"},
          "encoding": {
            "x": {"field": "t", "type": "temporal", "title": null},
            "y": {"field": "v", "type": "quantitative", "title": null},
            "text": {"field": "text"}
          }
        }
      ]
    }
  ],
  "config": {
    "font": "Roboto",
    "view": {"stroke": "#e0e3eb"}
  }
}
